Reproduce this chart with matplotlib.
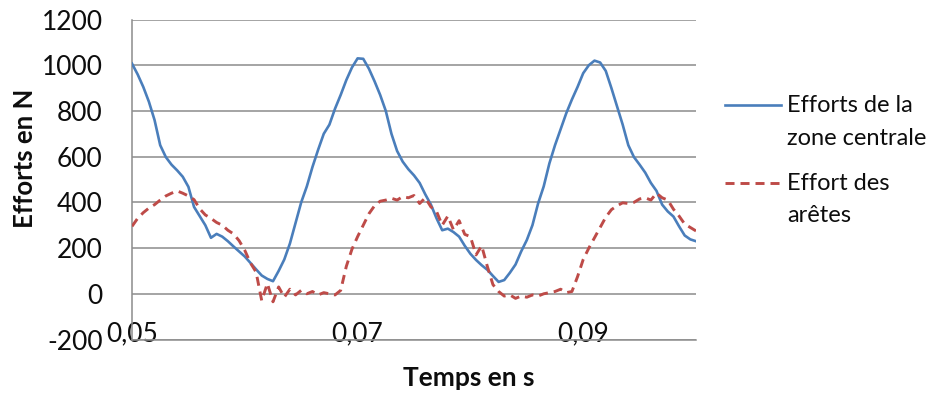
import matplotlib
matplotlib.use("Agg")
import matplotlib.pyplot as plt
from matplotlib.lines import Line2D
import numpy as np

plt.rcParams['font.family'] = ['Lato', 'DejaVu Sans']
plt.rcParams['lines.scale_dashes'] = False

# time axis (s), one sample every 0.5 ms
t_start = 0.05
t_step = 0.0005
n_pts = 101
time_s = [round(t_start + i * t_step, 5) for i in range(n_pts)]

efforts_zone_centrale = [
    1007, 960, 905, 840, 760, 650, 598, 565, 540, 512,
    468, 380, 340, 300, 245, 262, 250, 230, 207, 185,
    163, 135, 107, 80, 65, 55, 100, 150, 220, 310,
    400, 470, 555, 630, 700, 740, 810, 870, 935, 990,
    1030, 1028, 985, 930, 870, 800, 700, 625, 578, 545,
    518, 485, 435, 390, 330, 278, 285, 270, 250, 210,
    175, 148, 125, 105, 78, 52, 60, 92, 128, 185,
    235, 300, 395, 470, 570, 650, 720, 790, 850, 905,
    965, 1000, 1020, 1012, 975, 900, 820, 740, 650, 598,
    565, 530, 485, 450, 390, 360, 338, 295, 255, 238,
    230,
]

effort_aretes = [
    295, 330, 355, 375, 390, 410, 428, 440, 450, 440,
    428, 412, 372, 345, 330, 312, 300, 278, 262, 232,
    190, 135, 95, -30, 45, -35, 30, -15, 20, -5,
    15, 0, 10, -5, 5, 0, -5, 15, 120, 195,
    250, 300, 350, 385, 405, 410, 418, 410, 425, 420,
    430, 395, 420, 380, 360, 300, 340, 280, 320, 260,
    250, 170, 210, 120, 40, 10, -10, -5, -20, -10,
    -15, -5, -10, 0, 5, 10, 20, 5, 10, 75,
    150, 200, 245, 290, 335, 368, 385, 398, 395, 400,
    415, 420, 410, 440, 420, 410, 370, 340, 305, 290,
    275,
]

x_ticks = [0.05, 0.07, 0.09]
x_tick_labels = ["0,05", "0,07", "0,09"]
y_ticks = [-200, 0, 200, 400, 600, 800, 1000, 1200]

label_blue = "Efforts de la\nzone centrale"
label_red = "Effort des\narêtes"

BLUE = "#4A7EBB"
RED = "#BE4B48"
GRID = "#8C8C8C"
TXT = "#0D0D0D"

W, H = 930, 394
fig = plt.figure(figsize=(W / 100, H / 100), dpi=100)
ax = fig.add_axes([132 / W, 1 - 339.5 / H, (696 - 132) / W, (339.5 - 19.5) / H])

ax.plot(time_s, efforts_zone_centrale, color=BLUE, lw=1.9, solid_joinstyle='round', zorder=3)
ax.plot(time_s, effort_aretes, color=RED, lw=2.1, dashes=(6.5, 4.3), zorder=3)

ax.set_xlim(0.05, 0.10)
ax.set_ylim(-200, 1200)
ax.set_yticks(y_ticks)
ax.set_yticklabels([str(v) for v in y_ticks])
ax.set_xticks(x_ticks)
ax.set_xticklabels(x_tick_labels)
ax.yaxis.grid(True, color=GRID, lw=1.1)
ax.set_axisbelow(True)
for s in ['top', 'right']:
    ax.spines[s].set_visible(False)
ax.spines['left'].set_color(GRID)
ax.spines['left'].set_linewidth(1.1)
ax.spines['bottom'].set_color(GRID)
ax.spines['bottom'].set_linewidth(1.1)
ax.tick_params(axis='y', length=0, pad=21, labelsize=19, colors=TXT)
ax.tick_params(axis='x', length=0, pad=-13, labelsize=19, colors=TXT)

fig.text(25 / W, 1 - 158 / H, "Efforts en N", rotation=90, ha='center', va='center',
         fontsize=18.5, fontweight='bold', color=TXT)
fig.text(469 / W, 1 - 378 / H, "Temps en s", ha='center', va='center',
         fontsize=19, fontweight='bold', color=TXT)

# legend
fig.add_artist(Line2D([725 / W, 781 / W], [1 - 105 / H, 1 - 105 / H], transform=fig.transFigure,
                      color=BLUE, lw=1.9))
fig.add_artist(Line2D([725 / W, 781 / W], [1 - 183 / H, 1 - 183 / H], transform=fig.transFigure,
                      color=RED, lw=2.1, dashes=(6.5, 4.3)))
blue_lines = label_blue.split("\n")
red_lines = label_red.split("\n")
for txt, y in zip(blue_lines + red_lines, [105, 138, 183, 215]):
    fig.text(787 / W, 1 - y / H, txt, ha='left', va='center', fontsize=17, color=TXT)

fig.savefig("out.png", dpi=100)
